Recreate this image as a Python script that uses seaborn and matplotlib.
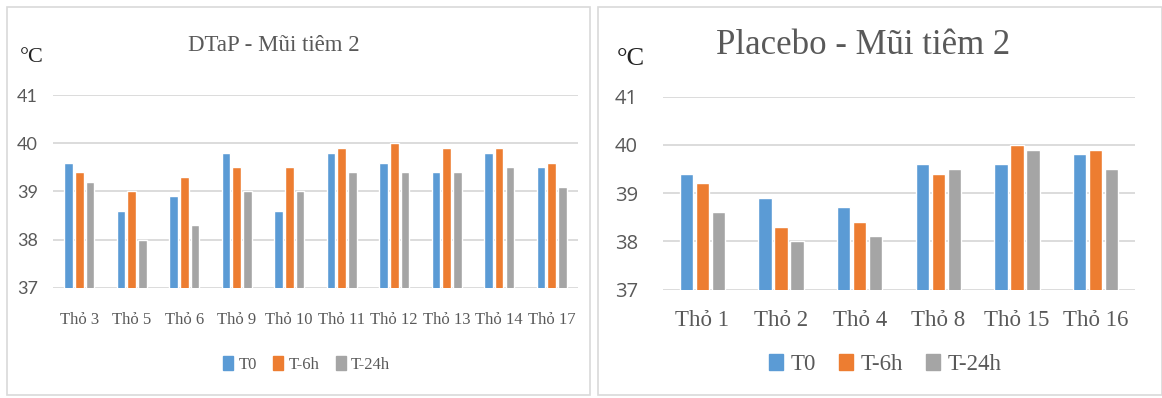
import pandas as pd
import seaborn as sns
import matplotlib.pyplot as plt
from matplotlib import font_manager
from matplotlib.patches import Rectangle

# data
series = ["T0", "T-6h", "T-24h"]
colors = ["#5B9BD5", "#ED7D31", "#A5A5A5"]

dtap_rabbits = ["Thỏ 3", "Thỏ 5", "Thỏ 6", "Thỏ 9", "Thỏ 10",
                "Thỏ 11", "Thỏ 12", "Thỏ 13", "Thỏ 14", "Thỏ 17"]
dtap_t0 = [39.6, 38.6, 38.9, 39.8, 38.6, 39.8, 39.6, 39.4, 39.8, 39.5]
dtap_t6 = [39.4, 39.0, 39.3, 39.5, 39.5, 39.9, 40.0, 39.9, 39.9, 39.6]
dtap_t24 = [39.2, 38.0, 38.3, 39.0, 39.0, 39.4, 39.4, 39.4, 39.5, 39.1]

plac_rabbits = ["Thỏ 1", "Thỏ 2", "Thỏ 4", "Thỏ 8", "Thỏ 15", "Thỏ 16"]
plac_t0 = [39.4, 38.9, 38.7, 39.6, 39.6, 39.8]
plac_t6 = [39.2, 38.3, 38.4, 39.4, 40.0, 39.9]
plac_t24 = [38.6, 38.0, 38.1, 39.5, 39.9, 39.5]

yticks = [37, 38, 39, 40, 41]


def long_df(rabbits, t0, t6, t24):
    rows = []
    for name, vals in zip(series, [t0, t6, t24]):
        for r, v in zip(rabbits, vals):
            rows.append({"rabbit": r, "series": name, "temp": v})
    return pd.DataFrame(rows)


df_dtap = long_df(dtap_rabbits, dtap_t0, dtap_t6, dtap_t24)
df_plac = long_df(plac_rabbits, plac_t0, plac_t6, plac_t24)

sns.set_style("white")
txt = "#595959"
serif = "Liberation Serif"

installed = {f.name for f in font_manager.fontManager.ttflist}
narrow = "Liberation Sans Narrow" if "Liberation Sans Narrow" in installed else "Lato"

fig = plt.figure(figsize=(11.62, 3.98), dpi=100)

# panel frames
fig.patches.append(Rectangle((0.006, 0.008), 0.502, 0.975, transform=fig.transFigure,
                             fill=False, edgecolor="#D9D9D9", lw=1.2))
fig.patches.append(Rectangle((0.515, 0.008), 0.485, 0.975, transform=fig.transFigure,
                             fill=False, edgecolor="#D9D9D9", lw=1.2))

ax1 = fig.add_axes([0.0456, 0.2764, 0.4518, 0.4849])
ax2 = fig.add_axes([0.5706, 0.2726, 0.4062, 0.4849])

panels = [
    (ax1, df_dtap, dtap_rabbits, 0.61, 0.2, narrow, 13, 11, 12, 17),
    (ax2, df_plac, plac_rabbits, 0.61, 0.17, "Open Sans", 14.5, 18, 16.5, 15),
]

for ax, df, cats, w, g, tickfont, ysize, ypad, xsize, xpad in panels:
    sns.barplot(data=df, x="rabbit", y="temp", hue="series", order=cats,
                hue_order=series, palette=colors, width=w, gap=g,
                saturation=1, errorbar=None, ax=ax)
    ax.set_ylim(37, 41)
    ax.set_yticks(yticks)
    ax.set_xlim(-0.5, len(cats) - 0.5)
    ax.grid(axis="y", color="#D9D9D9", lw=1.3)
    ax.set_axisbelow(True)
    for s in ["top", "right", "left", "bottom"]:
        ax.spines[s].set_visible(False)
    ax.tick_params(axis="both", length=0)
    ax.tick_params(axis="y", pad=ypad)
    ax.tick_params(axis="x", pad=xpad)
    for lab in ax.get_yticklabels():
        lab.set_fontfamily(tickfont)
        lab.set_fontsize(ysize)
        lab.set_color(txt)
    for lab in ax.get_xticklabels():
        lab.set_fontfamily(serif)
        lab.set_fontsize(xsize)
        lab.set_color(txt)
    ax.set_xlabel("")
    ax.set_ylabel("")
    ax.legend_.remove()

# titles and unit labels
fig.text(0.236, 0.885, "DTaP - Mũi tiêm 2", ha="center", va="center",
         fontfamily=serif, fontsize=16.5, color=txt)
fig.text(0.0275, 0.855, "°C", ha="center", va="center", fontfamily=serif,
         fontsize=16, color="#222222")
fig.text(0.743, 0.885, "Placebo - Mũi tiêm 2", ha="center", va="center",
         fontfamily=serif, fontsize=25, color=txt)
fig.text(0.543, 0.853, "°C", ha="center", va="center", fontfamily=serif,
         fontsize=19, color="#222222")

# legends
h = [Rectangle((0, 0), 1, 1, color=c) for c in colors]
leg1 = fig.legend(h, series, loc="center", bbox_to_anchor=(0.264, 0.085), ncol=3,
                  frameon=False, handlelength=0.6, handleheight=0.9,
                  handletextpad=0.3, columnspacing=1.0,
                  prop={"family": serif, "size": 12})
for t in leg1.get_texts():
    t.set_color(txt)
leg2 = fig.legend(h, series, loc="center", bbox_to_anchor=(0.762, 0.083), ncol=3,
                  frameon=False, handlelength=0.6, handleheight=0.7,
                  handletextpad=0.35, columnspacing=1.0,
                  prop={"family": serif, "size": 16.5})
for t in leg2.get_texts():
    t.set_color(txt)

fig.savefig("out.png", dpi=100)
